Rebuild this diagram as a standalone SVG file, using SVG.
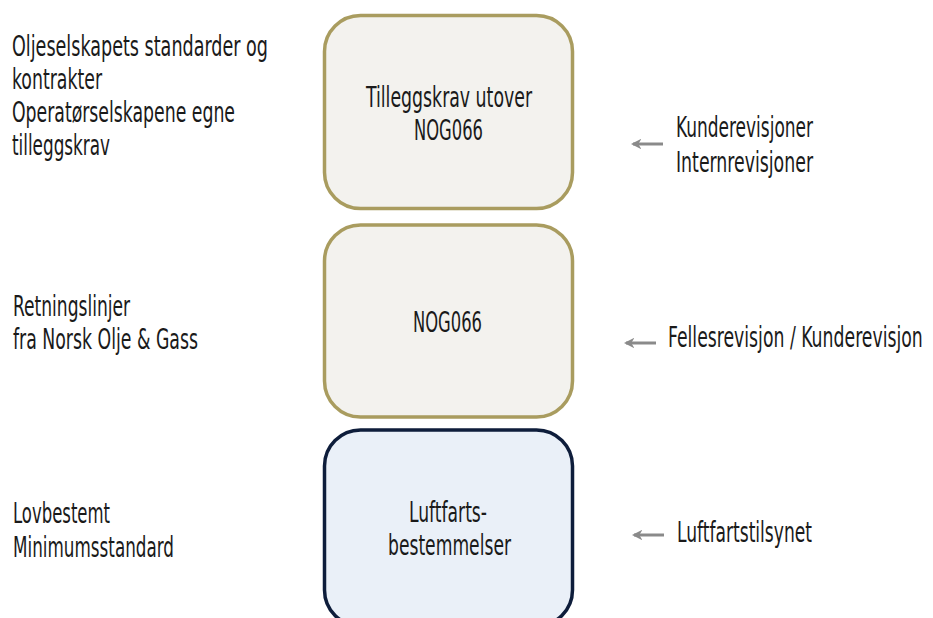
<svg xmlns="http://www.w3.org/2000/svg" width="933" height="618" viewBox="0 0 933 618">
<defs>
<marker id="ah" viewBox="0 0 10 10" refX="8" refY="5" markerWidth="3.5" markerHeight="3.5" orient="auto" markerUnits="strokeWidth">
<path d="M0,0 L10,5 L0,10 L3,5 Z" fill="#8a8a8a"/>
</marker>
</defs>
<style>
text{font-family:"DejaVu Sans Condensed","DejaVu Sans","Liberation Sans",sans-serif;font-stretch:condensed;font-size:28px;fill:#1a1a1a}
.c{text-anchor:middle}
.olive{fill:#f3f2ee;stroke:#a99c5f;stroke-width:3.5}
.navy{fill:#eaf0f8;stroke:#0e1d3b;stroke-width:3.5}
.arr{stroke:#8a8a8a;stroke-width:3;fill:none}
</style>
<rect width="933" height="618" fill="#ffffff"/>
<g id="node-tillegg">
<rect class="olive" x="324.5" y="15.5" width="248" height="193" rx="36"/>
<text class="c" x="449" y="107" textLength="166" lengthAdjust="spacingAndGlyphs">Tilleggskrav utover</text>
<text class="c" x="448.5" y="140" textLength="69" lengthAdjust="spacingAndGlyphs">NOG066</text>
</g>
<g id="node-nog066">
<rect class="olive" x="324.5" y="225" width="248" height="192" rx="36"/>
<text class="c" x="447.5" y="332" textLength="69" lengthAdjust="spacingAndGlyphs">NOG066</text>
</g>
<g id="node-luftfart">
<rect class="navy" x="324.5" y="430" width="248" height="196" rx="36"/>
<text class="c" x="448" y="522" textLength="78" lengthAdjust="spacingAndGlyphs">Luftfarts-</text>
<text class="c" x="449.5" y="555" textLength="123" lengthAdjust="spacingAndGlyphs">bestemmelser</text>
</g>
<g id="labels-left">
<text x="12" y="56" textLength="256" lengthAdjust="spacingAndGlyphs">Oljeselskapets standarder og</text>
<text x="12" y="89" textLength="90" lengthAdjust="spacingAndGlyphs">kontrakter</text>
<text x="12" y="122" textLength="223" lengthAdjust="spacingAndGlyphs">Operatørselskapene egne</text>
<text x="12" y="155" textLength="98" lengthAdjust="spacingAndGlyphs">tilleggskrav</text>
<text x="13" y="316" textLength="117" lengthAdjust="spacingAndGlyphs">Retningslinjer</text>
<text x="13" y="349" textLength="185" lengthAdjust="spacingAndGlyphs">fra Norsk Olje &amp; Gass</text>
<text x="13" y="523" textLength="97" lengthAdjust="spacingAndGlyphs">Lovbestemt</text>
<text x="13" y="557" textLength="161" lengthAdjust="spacingAndGlyphs">Minimumsstandard</text>
</g>
<g id="labels-right">
<text x="676" y="137" textLength="137" lengthAdjust="spacingAndGlyphs">Kunderevisjoner</text>
<text x="676" y="172" textLength="137" lengthAdjust="spacingAndGlyphs">Internrevisjoner</text>
<text transform="translate(668,347) scale(0.7,1)" x="0" y="0" textLength="364" lengthAdjust="spacingAndGlyphs">Fellesrevisjon / Kunderevisjon</text>
<text x="677" y="542" textLength="135" lengthAdjust="spacingAndGlyphs">Luftfartstilsynet</text>
</g>
<g id="connectors">
<line class="arr" x1="663" y1="144" x2="633" y2="144" marker-end="url(#ah)"/>
<line class="arr" x1="656" y1="343" x2="626" y2="343" marker-end="url(#ah)"/>
<line class="arr" x1="664" y1="535" x2="634" y2="535" marker-end="url(#ah)"/>
</g>
</svg>
